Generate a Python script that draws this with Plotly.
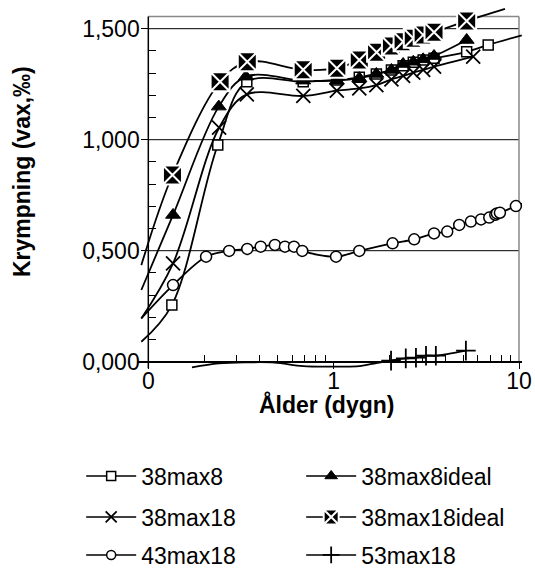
import plotly.graph_objects as go

# ---------------- data ----------------
x_38max8 = [0.0917, 0.134, 0.237, 0.34, 0.685, 1.04, 1.375, 1.70, 2.05, 2.37, 2.69, 3.04, 3.48, 5.22, 6.82, 10.35]
y_38max8 = [0.090, 0.255, 0.976, 1.261, 1.261, 1.269, 1.281, 1.296, 1.314, 1.333, 1.349, 1.359, 1.367, 1.396, 1.427, 1.470]

x_38max8ideal = [0.0917, 0.136, 0.240, 0.336, 0.685, 1.04, 1.375, 1.70, 2.05, 2.37, 2.69, 3.04, 3.48, 5.22]
y_38max8ideal = [0.323, 0.661, 1.149, 1.284, 1.266, 1.266, 1.277, 1.296, 1.314, 1.341, 1.351, 1.362, 1.377, 1.449]

x_38max18 = [0.0917, 0.136, 0.241, 0.34, 0.686, 1.04, 1.375, 1.70, 2.05, 2.37, 2.69, 3.04, 3.48, 5.66]
y_38max18 = [0.195, 0.443, 1.054, 1.204, 1.197, 1.221, 1.231, 1.246, 1.272, 1.287, 1.302, 1.314, 1.329, 1.374]

x_38max18ideal = [0.0917, 0.135, 0.244, 0.342, 0.685, 1.04, 1.375, 1.705, 2.05, 2.37, 2.69, 3.04, 3.48, 5.22, 8.4]
y_38max18ideal = [0.435, 0.841, 1.261, 1.351, 1.315, 1.322, 1.359, 1.394, 1.422, 1.441, 1.457, 1.472, 1.484, 1.535, 1.589]

x_43max18 = [0.0917, 0.136, 0.205, 0.273, 0.342, 0.404, 0.482, 0.546, 0.611, 0.677, 1.03, 1.375, 2.08, 2.72,
             3.48, 4.10, 4.76, 5.50, 6.24, 6.91, 7.45, 7.60, 7.89, 9.62, 11.0]
y_43max18 = [0.195, 0.345, 0.473, 0.499, 0.508, 0.518, 0.526, 0.518, 0.518, 0.499, 0.473, 0.499, 0.533, 0.551,
             0.578, 0.586, 0.616, 0.631, 0.641, 0.649, 0.662, 0.668, 0.671, 0.701, 0.720]

x_53max18 = [0.172, 0.24, 0.34, 0.48, 0.685, 1.04, 1.375, 1.70, 2.04, 2.45, 2.78, 3.15, 3.56, 5.17]
y_53max18 = [-0.026, -0.008, -0.003, -0.004, -0.020, -0.022, -0.020, -0.006, 0.005, 0.015, 0.018, 0.027, 0.027, 0.050]

series_names = ["38max8", "38max8ideal", "38max18", "38max18ideal", "43max18", "53max18"]

x_tick_vals = [0.1, 1, 10]
x_tick_text = ["0", "1", "10"]
x_minor_vals = [0.2, 0.3, 0.4, 0.5, 0.6, 0.7, 0.8, 0.9, 2, 3, 4, 5, 6, 7, 8, 9]
y_tick_vals = [0.0, 0.5, 1.0, 1.5]
y_tick_text = ["0,000", "0,500", "1,000", "1,500"]
y_minor_vals = [0.1, 0.2, 0.3, 0.4, 0.6, 0.7, 0.8, 0.9, 1.1, 1.2, 1.3, 1.4]

X_MIN, X_MAX = 0.1, 10.0
Y_MIN, Y_MAX = 0.0, 1.555

# ---------------- styles ----------------
FONT = "Liberation Sans, Arial, sans-serif"
markers = [
    dict(symbol="square", size=10, color="white", line=dict(color="black", width=1.5)),
    dict(symbol="triangle-up", size=13, color="black", line=dict(color="black", width=1)),
    dict(symbol="x-thin-open", size=14, color="black", line=dict(color="black", width=1.8)),
    dict(symbol="square-x", size=19, color="black", line=dict(color="white", width=2)),
    dict(symbol="circle", size=11, color="white", line=dict(color="black", width=1.5)),
    dict(symbol="cross-thin-open", size=14, color="black", line=dict(color="black", width=1.8)),
]
legend_sizes = [9, 11, 11, 15, 9, 12]
legend_ids = ["legend", "legend", "legend2", "legend2", "legend3", "legend3"]

data = [
    (x_38max8, y_38max8), (x_38max8ideal, y_38max8ideal), (x_38max18, y_38max18),
    (x_38max18ideal, y_38max18ideal), (x_43max18, y_43max18), (x_53max18, y_53max18),
]

fig = go.Figure()
for name, (xs, ys), mk, lg, ls in zip(series_names, data, markers, legend_ids, legend_sizes):
    fig.add_trace(go.Scatter(
        x=xs, y=ys, mode="lines",
        line=dict(color="black", width=1.8, shape="spline", smoothing=1.0),
        showlegend=False, hoverinfo="skip"))
    vis = [(x, y) for x, y in zip(xs, ys) if X_MIN <= x <= X_MAX and Y_MIN <= y <= Y_MAX]
    fig.add_trace(go.Scatter(
        x=[p[0] for p in vis], y=[p[1] for p in vis], mode="markers",
        marker=mk, showlegend=False, cliponaxis=False))
    lmk = dict(mk)
    lmk["size"] = ls
    fig.add_trace(go.Scatter(
        x=[None], y=[None], mode="lines+markers", name=name,
        line=dict(color="black", width=1.5), marker=lmk, legend=lg))

X_RANGE = [-1.0556, 1.0162]
Y_RANGE = [-0.0329, 1.5977]

fig.update_layout(
    width=535, height=568,
    margin=dict(l=138, r=13, t=7, b=199, autoexpand=False),
    plot_bgcolor="white", paper_bgcolor="white",
    font=dict(family=FONT, size=23, color="black"),
    xaxis=dict(
        type="log", range=X_RANGE, tickmode="array", tickvals=x_tick_vals, ticktext=x_tick_text,
        ticks="outside", ticklen=7, tickwidth=1, tickcolor="black",
        showline=True, linecolor="black", linewidth=1.5, showgrid=False, zeroline=False,
        anchor="free", position=(0 - Y_RANGE[0]) / (Y_RANGE[1] - Y_RANGE[0]),
        minor=dict(tickmode="array", tickvals=x_minor_vals, ticks="inside", ticklen=6,
                   tickcolor="black", showgrid=False),
        tickfont=dict(size=23), ticklabelstandoff=-8,
    ),
    yaxis=dict(
        range=Y_RANGE, tickmode="array", tickvals=y_tick_vals, ticktext=y_tick_text,
        ticks="outside", ticklen=7, tickwidth=1, tickcolor="black",
        showline=False, showgrid=False, zeroline=False,
        anchor="free", position=(-1 - X_RANGE[0]) / (X_RANGE[1] - X_RANGE[0]),
        minor=dict(tickmode="array", tickvals=y_minor_vals, ticks="inside", ticklen=7,
                   tickcolor="black", showgrid=False),
        tickfont=dict(size=23), ticklabelstandoff=-3,
    ),
    annotations=[
        dict(text="Krympning (vax,‰)", xref="paper", yref="paper", x=-0.302, y=0.544,
             textangle=-90, showarrow=False, xanchor="center", yanchor="middle",
             font=dict(family=FONT, size=23, weight="bold")),
        dict(text="Ålder (dygn)", xref="paper", yref="paper", x=0.4896, y=-0.0967,
             showarrow=False, xanchor="center", yanchor="middle",
             font=dict(family=FONT, size=23, weight="bold")),
    ],
)

shapes = []
for gv in [0.5, 1.0, 1.5]:
    shapes.append(dict(type="line", xref="x", yref="y", x0=X_MIN, x1=X_MAX, y0=gv, y1=gv,
                       line=dict(color="black", width=1), layer="below"))
shapes.append(dict(type="line", xref="x", yref="y", x0=X_MIN, x1=X_MAX, y0=Y_MAX, y1=Y_MAX,
                   line=dict(color="#888888", width=1.5), layer="below"))
shapes.append(dict(type="line", xref="x", yref="y", x0=X_MAX, x1=X_MAX, y0=0, y1=Y_MAX,
                   line=dict(color="#888888", width=1.5), layer="below"))
shapes.append(dict(type="line", xref="x", yref="y", x0=X_MIN, x1=X_MIN, y0=-0.03, y1=Y_MAX,
                   line=dict(color="black", width=1.5), layer="below"))
fig.update_layout(shapes=shapes)

leg_common = dict(orientation="h", entrywidth=155, entrywidthmode="pixels", xanchor="left",
                  yanchor="middle", bgcolor="rgba(0,0,0,0)", font=dict(family=FONT, size=23),
                  itemwidth=50)
fig.update_layout(
    legend=dict(x=-0.148, y=-0.2956, **leg_common),
    legend2=dict(x=-0.148, y=-0.4088, **leg_common),
    legend3=dict(x=-0.148, y=-0.5138, **leg_common),
)

fig.write_html("out.html", config={"displayModeBar": False},
               post_script="document.body.style.margin='0px';")
